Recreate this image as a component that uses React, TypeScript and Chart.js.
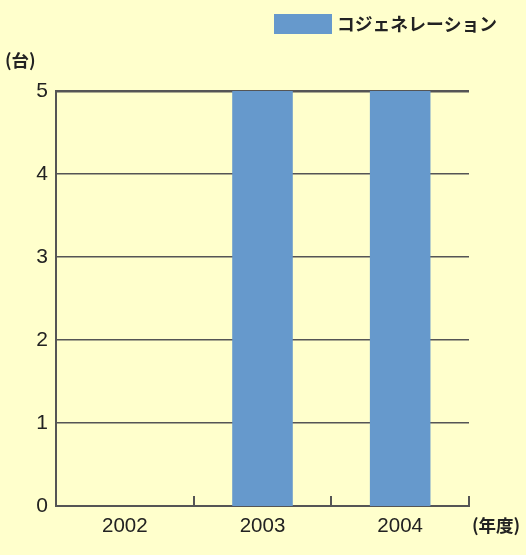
import React, { useEffect, useRef } from "react";
import { Chart, registerables } from "chart.js";

Chart.register(...registerables);

const categories = ["2002", "2003", "2004"];
const cogenValues = [0, 5, 5];
const seriesLabel = "コジェネレーション";
const yUnitLabel = "(台)";
const xUnitLabel = "(年度)";
const yMin = 0;
const yMax = 5;
const yStep = 1;

const BG = "#FFFFCC";
const BAR = "#6699CC";
const LINE = "#555555";
const TEXT = "#222222";
const JP_FONT = "'Noto Sans CJK JP', 'Liberation Sans', sans-serif";
const NUM_FONT = "'Liberation Sans', Arial, sans-serif";

const decorPlugin = {
  id: "decor",
  beforeDraw(chart: any) {
    const { ctx, width, height } = chart;
    ctx.save();
    ctx.fillStyle = BG;
    ctx.fillRect(0, 0, width, height);
    ctx.restore();
  },
  afterDraw(chart: any) {
    const { ctx, chartArea } = chart;
    const xs = chart.scales.x;
    ctx.save();
    // upward tick marks at category boundaries
    const half = (xs.getPixelForValue(1) - xs.getPixelForValue(0)) / 2;
    ctx.strokeStyle = LINE;
    ctx.lineWidth = 2;
    for (let i = 0; i < categories.length; i++) {
      const x = Math.round(xs.getPixelForValue(i) + half);
      ctx.beginPath();
      ctx.moveTo(x, chartArea.bottom);
      ctx.lineTo(x, chartArea.bottom - 10);
      ctx.stroke();
    }
    // legend
    ctx.fillStyle = BAR;
    ctx.fillRect(274, 14, 58, 20);
    ctx.fillStyle = TEXT;
    ctx.textBaseline = "middle";
    ctx.textAlign = "left";
    ctx.font = `bold 17.8px ${JP_FONT}`;
    ctx.fillText(seriesLabel, 337, 24);
    // units
    ctx.font = `bold 17.5px ${JP_FONT}`;
    ctx.fillText(yUnitLabel, 5, 60);
    ctx.fillText(xUnitLabel, 472, 525);
    ctx.restore();
  },
};

export default function App() {
  const ref = useRef<HTMLCanvasElement | null>(null);
  useEffect(() => {
    if (!ref.current) return;
    const chart = new Chart(ref.current, {
      type: "bar",
      data: {
        labels: categories,
        datasets: [
          {
            label: seriesLabel,
            data: cogenValues,
            backgroundColor: BAR,
            borderWidth: 0,
            barPercentage: 0.44,
            categoryPercentage: 1,
          },
        ],
      },
      options: {
        animation: false,
        responsive: false,
        maintainAspectRatio: false,
        layout: { padding: { top: 91, right: 57, bottom: 0, left: 0 } },
        plugins: {
          legend: { display: false },
          tooltip: { enabled: false },
        },
        scales: {
          x: {
            afterFit: (s: any) => {
              s.height = 49;
            },
            grid: { display: false, drawTicks: false },
            border: { display: true, color: LINE, width: 2 },
            ticks: {
              padding: 8,
              color: TEXT,
              font: { family: NUM_FONT, size: 20.5 },
            },
          },
          y: {
            min: yMin,
            max: yMax,
            afterFit: (s: any) => {
              s.width = 56;
            },
            grid: {
              drawTicks: false,
              color: LINE,
              lineWidth: (c: any) =>
                c.tick && c.tick.value === yMax ? 2.5 : c.tick && c.tick.value === yMin ? 0 : 1.5,
            },
            border: { display: true, color: LINE, width: 2 },
            ticks: {
              stepSize: yStep,
              padding: 8,
              color: TEXT,
              font: { family: NUM_FONT, size: 21 },
            },
          },
        },
      },
      plugins: [decorPlugin],
    });
    return () => chart.destroy();
  }, []);
  return (
    <div style={{ position: "absolute", left: 0, top: 0, width: 526, height: 555, background: BG }}>
      <canvas ref={ref} width={526} height={555} style={{ display: "block" }} />
    </div>
  );
}
